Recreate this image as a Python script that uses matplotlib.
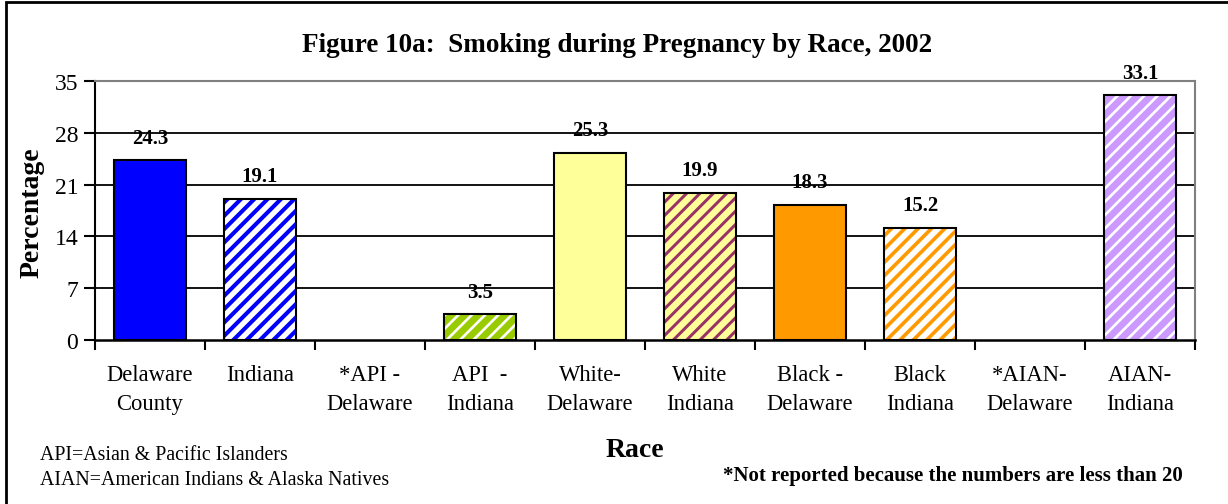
import matplotlib.pyplot as plt
import matplotlib.patches as mpatches
import numpy as np

# data
categories = ["Delaware\nCounty", "Indiana", "*API -\nDelaware", "API  -\nIndiana", "White-\nDelaware",
              "White\nIndiana", "Black -\nDelaware", "Black\nIndiana", "*AIAN-\nDelaware", "AIAN-\nIndiana"]
values = [24.3, 19.1, np.nan, 3.5, 25.3, 19.9, 18.3, 15.2, np.nan, 33.1]
face_colors = ["#0000FF", "#FFFFFF", "#FFFFFF", "#99CC00", "#FFFF99",
               "#FFFF99", "#FF9900", "#FFFFFF", "#FFFFFF", "#CC99FF"]
stripe_colors = [None, "#0000FF", None, "#FFFFFF", None,
                 "#993366", None, "#FF9900", None, "#FFFFFF"]
stripe_widths = [0, 2.45, 0, 1.6, 0, 1.8, 0, 2.2, 0, 1.6]
y_ticks = [0, 7, 14, 21, 28, 35]

plt.rcParams["font.family"] = ["Liberation Serif", "DejaVu Serif"]

W, H = 1228, 505
DPI = 120  # hatch spacing follows dpi, sizes below are scaled back to 100-dpi points
S = 100 / DPI
fig = plt.figure(figsize=(W / DPI, H / DPI), dpi=DPI)


def px(x, y):
    return x / W, 1 - y / H


ax_l, ax_r, ax_t, ax_b = 95, 1195, 82, 341
ax = fig.add_axes([ax_l / W, 1 - ax_b / H, (ax_r - ax_l) / W, (ax_b - ax_t) / H])

x = np.arange(len(categories))
for i, v in enumerate(values):
    if np.isnan(v):
        continue
    sc = stripe_colors[i]
    if sc is None:
        ax.bar(x[i], v, width=0.66, color=face_colors[i], edgecolor="black", linewidth=1.5 * S, zorder=3)
    else:
        with plt.rc_context({"hatch.linewidth": stripe_widths[i]}):
            ax.bar(x[i], v, width=0.66, color=face_colors[i], edgecolor=sc, hatch="///", linewidth=0, zorder=3)
        ax.bar(x[i], v, width=0.66, fill=False, edgecolor="black", linewidth=1.5 * S, zorder=4)
    ax.annotate(f"{v:.1f}", (x[i], v), xytext=(0, 9 * S), textcoords="offset points",
                ha="center", va="bottom", fontsize=15 * S, fontweight="bold", zorder=5)

ax.set_xlim(-0.5, len(categories) - 0.5)
ax.set_ylim(0, 35)
ax.set_yticks(y_ticks)
ax.set_yticklabels([str(t) for t in y_ticks], fontsize=17 * S)
for t in y_ticks[1:-1]:
    ax.axhline(t, color="black", lw=1.3 * S, zorder=1)

ax.set_xticks(x)
ax.set_xticklabels(categories, fontsize=16.3 * S, linespacing=1.55)
ax.set_xticks(np.arange(len(categories) + 1) - 0.5, minor=True)
ax.tick_params(axis="x", which="major", length=0, pad=17 * S)
ax.tick_params(axis="x", which="minor", length=7 * S, width=1.5 * S, direction="out")
ax.tick_params(axis="y", length=8 * S, width=1.5 * S, direction="out", pad=4 * S)

ax.spines["left"].set_linewidth(1.5 * S)
ax.spines["bottom"].set_linewidth(1.8 * S)
ax.spines["top"].set_color("#808080")
ax.spines["right"].set_color("#808080")
ax.spines["top"].set_linewidth(1.5 * S)
ax.spines["right"].set_linewidth(1.5 * S)

fig.text(*px(617, 46), "Figure 10a:  Smoking during Pregnancy by Race, 2002",
         ha="center", va="center", fontsize=19.5 * S, fontweight="bold")
fig.text(*px(32, 213), "Percentage", rotation=90, ha="center", va="center",
         fontsize=20 * S, fontweight="bold")
fig.text(*px(635, 451), "Race", ha="center", va="center", fontsize=20 * S, fontweight="bold")
fig.text(*px(40, 456), "API=Asian & Pacific Islanders", ha="left", va="center", fontsize=14.3 * S)
fig.text(*px(40, 481), "AIAN=American Indians & Alaska Natives", ha="left", va="center", fontsize=14.3 * S)
fig.text(*px(1183, 476), "*Not reported because the numbers are less than 20",
         ha="right", va="center", fontsize=15 * S, fontweight="bold")

border = mpatches.Rectangle(px(6, 520), (W + 20) / W, 517 / H, transform=fig.transFigure,
                            fill=False, edgecolor="black", linewidth=2 * S, clip_on=False)
fig.patches.append(border)

fig.savefig("out.png", dpi=DPI)
